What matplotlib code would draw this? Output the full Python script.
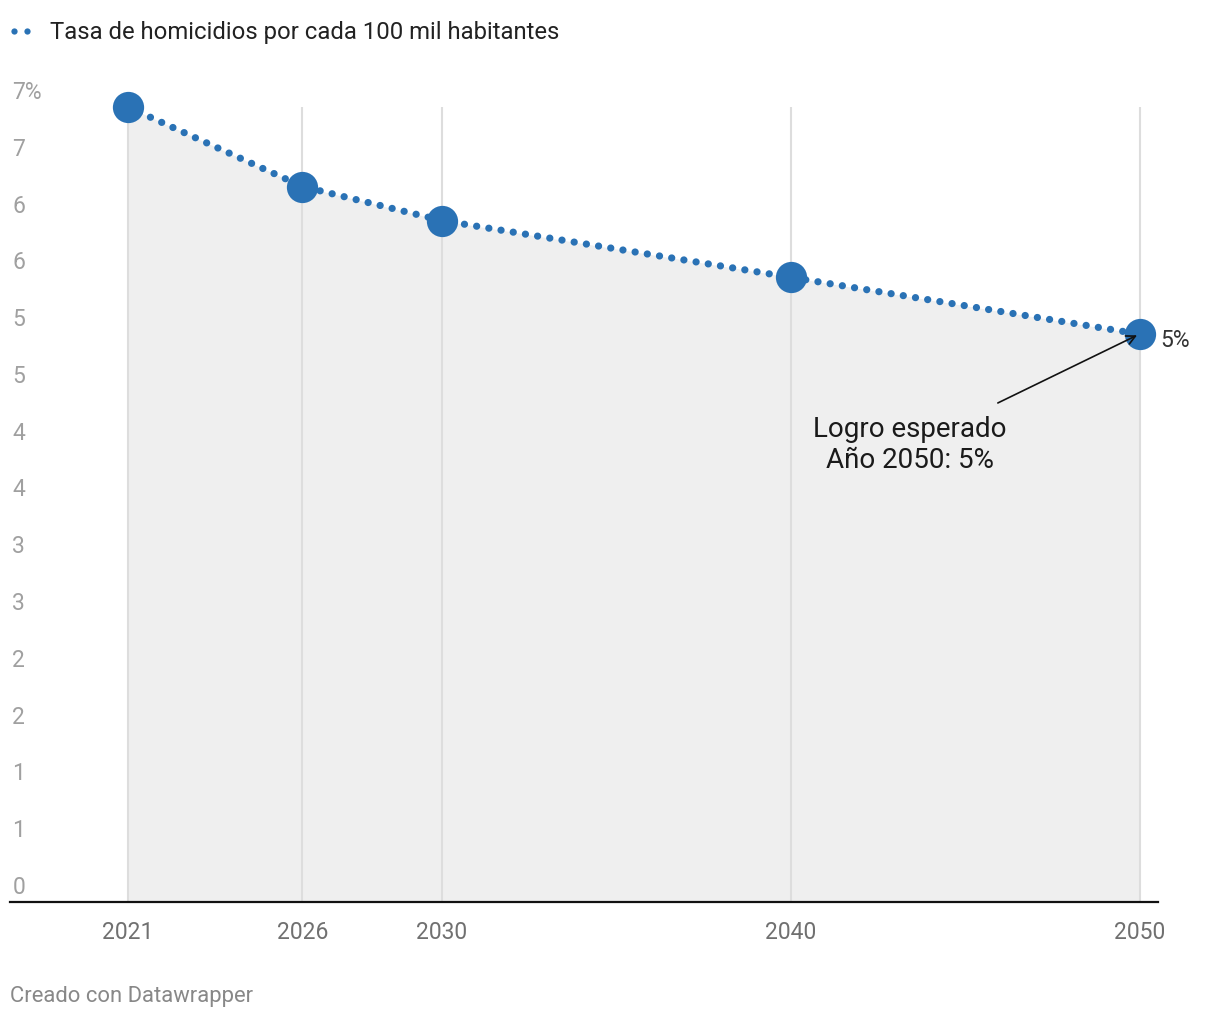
import matplotlib
matplotlib.use("Agg")
from matplotlib import pyplot as plt
from matplotlib.lines import Line2D
import matplotlib.transforms as mtransforms

plt.rcParams['font.family'] = ['Roboto', 'DejaVu Sans']

# datos
years = [2021, 2026, 2030, 2040, 2050]
tasa = [7.0, 6.3, 6.0, 5.5, 5.0]
ytick_vals = [0, 0.5, 1, 1.5, 2, 2.5, 3, 3.5, 4, 4.5, 5, 5.5, 6, 6.5, 7]
ytick_labels = ['0', '1', '1', '2', '2', '3', '3', '4', '4', '5', '5', '6', '6', '7', '7%']
serie_nombre = "Tasa de homicidios por cada 100 mil habitantes"
nota = "Logro esperado\nAño 2050: 5%"
ultimo_label = "5%"

BLUE = '#2a72b5'
W, H = 1220, 1020

fig = plt.figure(figsize=(W / 100, H / 100), dpi=100)
ax = fig.add_axes([10 / W, 117 / H, 1148 / W, 795 / H])

ax.set_xlim(2017.62, 2050.52)
ax.set_ylim(0, 7)

# area gris bajo la linea
ax.fill_between(years, tasa, 0, color='#efefef', lw=0, zorder=1)
# lineas verticales
ax.vlines(years, 0, 7, color='#dddddd', lw=1.5, zorder=2)
# linea punteada
ax.plot(years, tasa, color=BLUE, lw=5.2, linestyle=(0, (0.01, 1.7)),
        dash_capstyle='round', zorder=3, clip_on=False)
ax.plot(years, tasa, 'o', color=BLUE, ms=22.5, mew=0, zorder=4, clip_on=False)

# ejes
for s in ['top', 'right', 'left']:
    ax.spines[s].set_visible(False)
ax.spines['bottom'].set_color('#111111')
ax.spines['bottom'].set_linewidth(1.6)
ax.spines['bottom'].set_zorder(5)
ax.set_yticks([])
ax.set_xticks(years)
ax.set_xticklabels([str(y) for y in years])
ax.tick_params(axis='x', length=0, pad=13, labelsize=16.5, labelcolor='#707070')

# etiquetas del eje y (encima del valor)
ytr = mtransforms.offset_copy(ax.get_yaxis_transform(), fig=fig, x=0, y=9, units='dots')
for v, lab in zip(ytick_vals, ytick_labels):
    ax.text(0.002, v, lab, transform=ytr, ha='left', va='baseline',
            fontsize=16.5, color='#a0a0a0')

# etiqueta del ultimo punto
ax.annotate(ultimo_label, xy=(years[-1], tasa[-1]), xytext=(20, -5),
            textcoords='offset pixels', ha='left', va='center',
            fontsize=16.5, color='#333333', zorder=6)

# anotacion
ax.annotate('', xy=(years[-1] - 0.08, tasa[-1] - 0.01), xytext=(2045.93, 4.394),
            arrowprops=dict(arrowstyle='->', color='#111111', lw=1.2,
                            mutation_scale=16, shrinkA=0, shrinkB=0), zorder=6)
ax.text(2043.41, 4.03, nota, ha='center', va='center', fontsize=20,
        color='#1a1a1a', linespacing=1.2, zorder=6)

# leyenda
fig.add_artist(Line2D([14 / W, 27 / W], [1 - 32 / H] * 2, ls='none', marker='o',
                      ms=4.5, mew=0, color=BLUE))
fig.text(50 / W, 1 - 32 / H, serie_nombre, ha='left', va='center',
         fontsize=17.2, color='#222222')

fig.text(10 / W, 1 - 997 / H, "Creado con Datawrapper", ha='left', va='center',
         fontsize=15.8, color='#888888')

plt.savefig("out.png", dpi=100)
